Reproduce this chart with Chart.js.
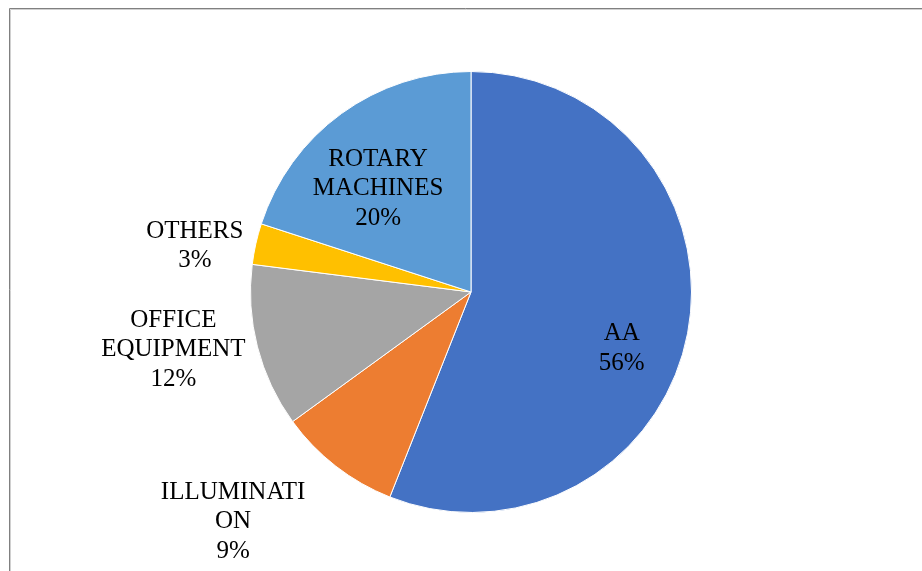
<!DOCTYPE html>
<html>
<head>
<meta charset="utf-8">
<script src="https://cdn.jsdelivr.net/npm/chart.js@4/dist/chart.umd.min.js"></script>
<style>
html,body{margin:0;padding:0;background:#fff;}
#wrap{position:relative;width:922px;height:571px;}
</style>
</head>
<body>
<div id="wrap"><canvas id="c" width="922" height="571"></canvas></div>
<script>
// Data
const categories = ["AA", "ILLUMINATION", "OFFICE EQUIPMENT", "OTHERS", "ROTARY MACHINES"];
const values = [56, 9, 12, 3, 20];
const labelLines = [["AA", "56%"], ["ILLUMINATI", "ON", "9%"], ["OFFICE", "EQUIPMENT", "12%"], ["OTHERS", "3%"], ["ROTARY", "MACHINES", "20%"]];
const colors = ["#4472C4", "#ED7D31", "#A5A5A5", "#FFC000", "#5B9BD5"];
// label placement: [radius factor, angle offset in degrees]
const labelPlace = [[0.73, 9.7], [1.5, 8.2], [1.375, 3.4], [1.27, -3.1], [0.63, -6]];

const framePlugin = {
  id: 'frame',
  beforeDraw(chart) {
    const ctx = chart.ctx;
    ctx.save();
    ctx.fillStyle = '#ffffff';
    ctx.fillRect(0, 0, chart.width, chart.height);
    ctx.strokeStyle = '#d0d0d0';
    ctx.lineWidth = 1;
    ctx.beginPath();
    ctx.moveTo(10.5, chart.height);
    ctx.lineTo(10.5, 9.5);
    ctx.lineTo(chart.width, 9.5);
    ctx.stroke();
    ctx.strokeStyle = '#808080';
    ctx.beginPath();
    ctx.moveTo(9.5, chart.height);
    ctx.lineTo(9.5, 8.5);
    ctx.lineTo(chart.width, 8.5);
    ctx.stroke();
    ctx.restore();
  }
};

const labelPlugin = {
  id: 'sliceLabels',
  afterDatasetsDraw(chart) {
    const ctx = chart.ctx;
    const meta = chart.getDatasetMeta(0);
    ctx.save();
    ctx.font = '25px "Liberation Serif", "Times New Roman", serif';
    ctx.fillStyle = '#000000';
    ctx.textAlign = 'center';
    ctx.textBaseline = 'middle';
    const lh = 29.5;
    meta.data.forEach((arc, i) => {
      const p = arc.getProps(['x', 'y', 'startAngle', 'endAngle', 'outerRadius'], true);
      const mid = (p.startAngle + p.endAngle) / 2 + labelPlace[i][1] * Math.PI / 180;
      const r = p.outerRadius * labelPlace[i][0];
      const cx = p.x + Math.cos(mid) * r;
      const cy = p.y + Math.sin(mid) * r;
      const lines = labelLines[i];
      const y0 = cy - (lines.length - 1) * lh / 2;
      lines.forEach((t, k) => ctx.fillText(t, cx, y0 + k * lh));
    });
    ctx.restore();
  }
};

new Chart(document.getElementById('c'), {
  type: 'pie',
  data: {
    labels: categories,
    datasets: [{
      data: values,
      backgroundColor: colors,
      borderColor: '#ffffff',
      borderWidth: 1
    }]
  },
  options: {
    responsive: false,
    animation: false,
    layout: { padding: { left: 20, right: 0, top: 71, bottom: 58 } },
    plugins: {
      legend: { display: false },
      tooltip: { enabled: false },
      title: { display: false }
    }
  },
  plugins: [framePlugin, labelPlugin]
});
</script>
</body>
</html>
